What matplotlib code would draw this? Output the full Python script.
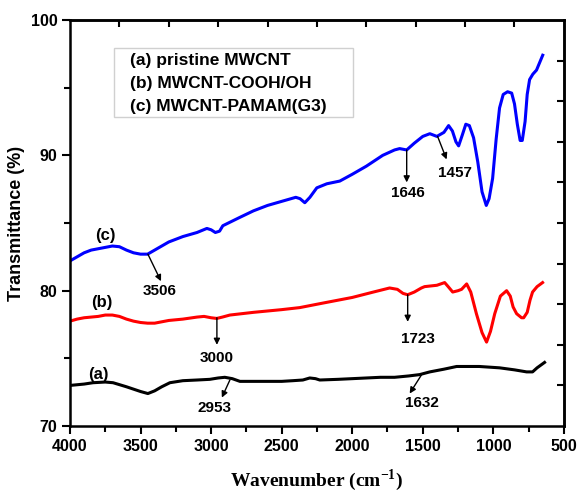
import matplotlib.pyplot as plt
from matplotlib.patches import Rectangle

# (c) MWCNT-PAMAM(G3)
wn_c = [4000, 3950, 3900, 3850, 3800, 3750, 3700, 3650, 3600, 3550, 3500, 3450, 3400, 3350,
        3300, 3200, 3100, 3030, 3000, 2970, 2940, 2917, 2800, 2700, 2600, 2500, 2400, 2370,
        2336, 2300, 2251, 2180, 2088, 2000, 1900, 1784, 1700, 1664, 1614, 1560, 1500, 1450,
        1400, 1350, 1317, 1290, 1265, 1246, 1220, 1195, 1170, 1140, 1110, 1080, 1050, 1030,
        1005, 980, 956, 930, 899, 870, 850, 830, 810, 795, 775, 760, 743, 720, 694, 670, 650]
t_c = [82.2, 82.5, 82.8, 83.0, 83.1, 83.2, 83.3, 83.25, 83.0, 82.8, 82.7, 82.7, 83.0, 83.3,
       83.6, 84.0, 84.3, 84.6, 84.5, 84.3, 84.4, 84.8, 85.4, 85.9, 86.3, 86.6, 86.9, 86.8,
       86.5, 86.9, 87.6, 87.9, 88.1, 88.6, 89.2, 90.0, 90.4, 90.5, 90.4, 90.9, 91.4, 91.6,
       91.4, 91.7, 92.2, 91.8, 91.0, 90.7, 91.5, 92.3, 92.2, 91.3, 89.5, 87.3, 86.3, 86.8,
       88.3, 91.2, 93.5, 94.5, 94.7, 94.6, 93.8, 92.3, 91.1, 91.1, 92.5, 94.5, 95.6, 96.0,
       96.3, 96.9, 97.4]

# (b) MWCNT-COOH/OH
wn_b = [4000, 3950, 3900, 3850, 3800, 3750, 3700, 3650, 3600, 3550, 3500, 3450, 3400, 3350,
        3300, 3200, 3100, 3050, 3000, 2960, 2920, 2867, 2700, 2500, 2372, 2200, 2000, 1850,
        1735, 1680, 1640, 1607, 1560, 1510, 1487, 1400, 1345, 1320, 1288, 1250, 1225, 1189,
        1160, 1120, 1080, 1048, 1020, 990, 950, 906, 880, 860, 835, 800, 785, 760, 740, 722,
        690, 651]
t_b = [77.75, 77.9, 78.0, 78.05, 78.1, 78.2, 78.2, 78.1, 77.9, 77.75, 77.65, 77.6, 77.6, 77.7,
       77.8, 77.9, 78.05, 78.1, 78.0, 77.95, 78.05, 78.2, 78.4, 78.6, 78.75, 79.1, 79.5, 79.9,
       80.2, 80.1, 79.8, 79.7, 79.9, 80.2, 80.3, 80.4, 80.6, 80.3, 79.9, 80.0, 80.1, 80.5,
       79.9, 78.3, 76.9, 76.2, 77.0, 78.3, 79.6, 80.0, 79.6, 78.8, 78.3, 78.0, 78.0, 78.4,
       79.3, 79.9, 80.3, 80.6]

# (a) pristine MWCNT
wn_a = [4000, 3900, 3837, 3750, 3695, 3600, 3500, 3448, 3400, 3350, 3292, 3200, 3100, 3009,
        2950, 2903, 2850, 2796, 2700, 2500, 2421, 2350, 2301, 2260, 2230, 2100, 2000, 1900,
        1800, 1700, 1600, 1522, 1450, 1350, 1260, 1100, 956, 850, 764, 722, 690, 637]
t_a = [73.0, 73.1, 73.2, 73.25, 73.2, 72.9, 72.55, 72.4, 72.6, 72.9, 73.2, 73.35, 73.4, 73.45,
       73.55, 73.6, 73.5, 73.3, 73.3, 73.3, 73.35, 73.4, 73.55, 73.5, 73.4, 73.45, 73.5, 73.55,
       73.6, 73.6, 73.7, 73.8, 74.0, 74.2, 74.4, 74.4, 74.3, 74.15, 74.0, 74.0, 74.3, 74.7]

legend_lines = ['(a) pristine MWCNT', '(b) MWCNT-COOH/OH', '(c) MWCNT-PAMAM(G3)']

# peak labels: text, arrow start (on curve), arrow tip, text position
peaks = [
    ('3506', (3448, 82.7), (3355, 80.7), (3363, 80.0)),
    ('3000', (2959, 78.0), (2959, 76.0), (2959, 75.0)),
    ('2953', (2867, 73.4), (2924, 72.1), (2973, 71.3)),
    ('1646', (1614, 90.4), (1614, 88.0), (1605, 87.2)),
    ('1457', (1395, 91.4), (1331, 89.7), (1274, 88.7)),
    ('1723', (1607, 79.7), (1607, 77.7), (1536, 76.4)),
    ('1632', (1508, 73.8), (1593, 72.4), (1508, 71.7)),
]
curve_tags = [('(c)', 3752, 84.1), ('(b)', 3773, 79.1), ('(a)', 3801, 73.8)]

plt.rcParams['font.family'] = 'Liberation Sans'
plt.rcParams['font.weight'] = 'bold'
plt.rcParams['mathtext.fontset'] = 'custom'
plt.rcParams['mathtext.rm'] = 'Liberation Serif:bold'

fig = plt.figure(figsize=(5.79, 4.92), dpi=100)
ax = fig.add_axes([0.1209, 0.1341, 0.853, 0.8252])

ax.plot(wn_a, t_a, color='black', lw=2.2)
ax.plot(wn_b, t_b, color='#ff0000', lw=2.2)
ax.plot(wn_c, t_c, color='#0000ff', lw=2.2)

ax.set_xlim(4000, 500)
ax.set_ylim(70, 100)
ax.set_xticks(range(4000, 499, -500))
ax.set_xticks(range(3750, 500, -500), minor=True)
ax.set_yticks([70, 80, 90, 100])
ax.set_yticks([75, 85, 95], minor=True)
ax.tick_params(axis='both', which='major', direction='out', length=6, width=1.5,
               labelsize=11.5, pad=3)
ax.tick_params(axis='both', which='minor', direction='out', length=4, width=1.5)
for s in ax.spines.values():
    s.set_linewidth(1.8)

# top / right tick marks (separate spacing, no labels)
top = ax.secondary_xaxis('top')
top.set_xticks([3650, 3300, 2950, 2600, 2250, 1900, 1550, 1200, 850])
top.tick_params(direction='in', length=5, width=1.5, labeltop=False)
top.spines['top'].set_linewidth(1.8)
right = ax.secondary_yaxis('right')
right.set_yticks([97, 94, 91, 88, 85, 82, 79, 76, 73])
right.tick_params(direction='in', length=5, width=1.5, labelright=False)
right.spines['right'].set_linewidth(1.8)

ax.set_xlabel(r'Wavenumber (cm$^{-1}$)', fontfamily='Liberation Serif', fontweight='bold',
              fontsize=14, labelpad=10)
ax.set_ylabel('Transmittance (%)', fontsize=13, fontweight='bold', labelpad=4)

for txt, start, tip, pos in peaks:
    ax.annotate('', xy=tip, xytext=start,
                arrowprops=dict(arrowstyle='-|>', color='black', lw=1.0,
                                mutation_scale=9, shrinkA=0, shrinkB=0))
    ax.text(pos[0], pos[1], txt, ha='center', va='center', fontsize=11, fontweight='bold')

for txt, x, y in curve_tags:
    ax.text(x, y, txt, ha='center', va='center', fontsize=12, fontweight='bold')

ax.add_patch(Rectangle((0.089, 0.761), 0.484, 0.170, transform=ax.transAxes,
                       facecolor='white', edgecolor='#d0d0d0', lw=1.0))
for i, line in enumerate(legend_lines):
    ax.text(0.121, 0.901 - i * 0.0575, line, transform=ax.transAxes, ha='left',
            va='center', fontsize=12.5, fontweight='bold')

fig.savefig('out.png', dpi=100)
